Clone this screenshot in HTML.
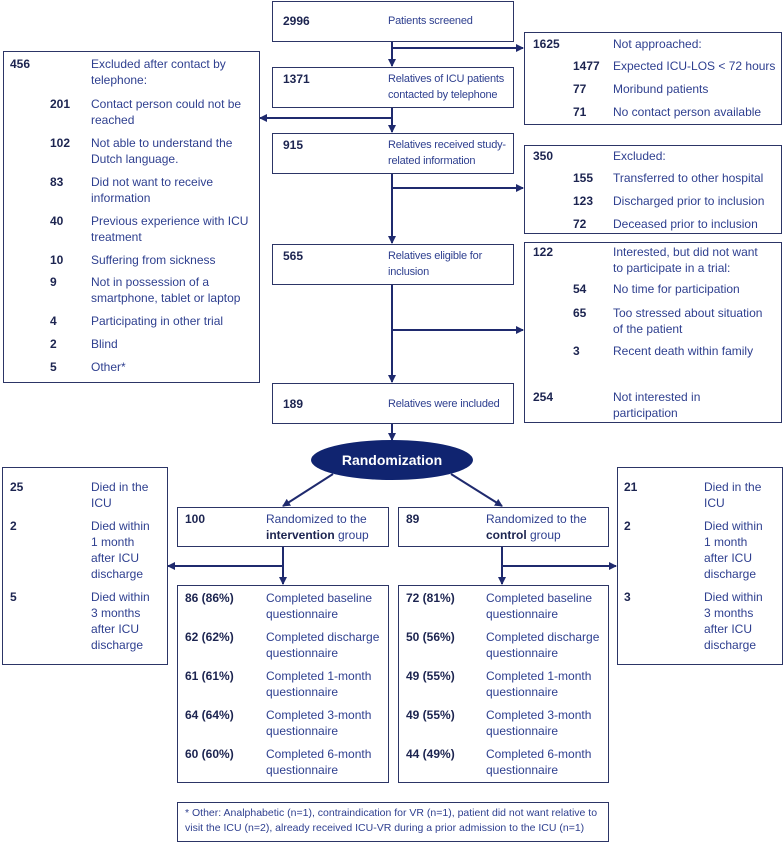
<!DOCTYPE html>
<html><head><meta charset="utf-8"><style>
body{margin:0;width:784px;height:844px;background:#fff;position:relative;overflow:hidden;font-family:"Liberation Sans",sans-serif;}
.b{position:absolute;border:1.3px solid #2c3566;box-sizing:border-box;background:#fff}
.t{position:absolute;font-size:12px;line-height:16px;color:#2e3f8f;white-space:nowrap}
.m{font-size:11px;letter-spacing:-0.2px}
.n{position:absolute;font-size:12px;line-height:16px;color:#1c2450;font-weight:bold;white-space:nowrap}
svg{position:absolute;left:0;top:0}
</style></head><body>
<svg width="784" height="844">
<defs><marker id="a" markerWidth="8" markerHeight="8" refX="7" refY="4" orient="auto" markerUnits="userSpaceOnUse"><path d="M0,0 L8,4 L0,8 z" fill="#1f2a6e"/></marker></defs>
<g stroke="#1f2a6e" stroke-width="2" fill="none">
<line x1="392" y1="41" x2="392" y2="66" marker-end="url(#a)"/>
<line x1="392" y1="48" x2="523" y2="48" marker-end="url(#a)"/>
<line x1="392" y1="107" x2="392" y2="132" marker-end="url(#a)"/>
<line x1="392" y1="118" x2="260" y2="118" marker-end="url(#a)"/>
<line x1="392" y1="173" x2="392" y2="243" marker-end="url(#a)"/>
<line x1="392" y1="188" x2="523" y2="188" marker-end="url(#a)"/>
<line x1="392" y1="284" x2="392" y2="382" marker-end="url(#a)"/>
<line x1="392" y1="330" x2="523" y2="330" marker-end="url(#a)"/>
<line x1="392" y1="423" x2="392" y2="440" marker-end="url(#a)"/>
<line x1="333" y1="474" x2="283" y2="506" marker-end="url(#a)"/>
<line x1="451" y1="474" x2="502" y2="506" marker-end="url(#a)"/>
<line x1="283" y1="546" x2="283" y2="584" marker-end="url(#a)"/>
<line x1="283" y1="566" x2="168" y2="566" marker-end="url(#a)"/>
<line x1="502" y1="546" x2="502" y2="584" marker-end="url(#a)"/>
<line x1="502" y1="566" x2="616" y2="566" marker-end="url(#a)"/>
</g>
<ellipse cx="392" cy="460" rx="81" ry="20" fill="#102470"/>
<text x="392" y="465" text-anchor="middle" font-family="Liberation Sans" font-weight="bold" font-size="14" fill="#fff">Randomization</text>
</svg>

<div class="b" style="left:272px;top:1px;width:242px;height:41px"></div>
<div class="n" style="left:283px;top:13px">2996</div><div class="t m" style="left:388px;top:13px">Patients screened</div>
<div class="b" style="left:272px;top:67px;width:242px;height:41px"></div>
<div class="n" style="left:283px;top:71px">1371</div><div class="t m" style="left:388px;top:71px">Relatives of ICU patients<br>contacted by telephone</div>
<div class="b" style="left:272px;top:133px;width:242px;height:41px"></div>
<div class="n" style="left:283px;top:137px">915</div><div class="t m" style="left:388px;top:137px">Relatives received study-<br>related information</div>
<div class="b" style="left:272px;top:244px;width:242px;height:41px"></div>
<div class="n" style="left:283px;top:248px">565</div><div class="t m" style="left:388px;top:248px">Relatives eligible for<br>inclusion</div>
<div class="b" style="left:272px;top:383px;width:242px;height:41px"></div>
<div class="n" style="left:283px;top:396px">189</div><div class="t m" style="left:388px;top:396px">Relatives were included</div>

<div class="b" style="left:3px;top:51px;width:257px;height:332px"></div>
<div class="n" style="left:10px;top:56px">456</div><div class="t" style="left:91px;top:56px">Excluded after contact by<br>telephone:</div>
<div class="n" style="left:50px;top:96px">201</div><div class="t" style="left:91px;top:96px">Contact person could not be<br>reached</div>
<div class="n" style="left:50px;top:135px">102</div><div class="t" style="left:91px;top:135px">Not able to understand the<br>Dutch language.</div>
<div class="n" style="left:50px;top:174px">83</div><div class="t" style="left:91px;top:174px">Did not want to receive<br>information</div>
<div class="n" style="left:50px;top:213px">40</div><div class="t" style="left:91px;top:213px">Previous experience with ICU<br>treatment</div>
<div class="n" style="left:50px;top:252px">10</div><div class="t" style="left:91px;top:252px">Suffering from sickness</div>
<div class="n" style="left:50px;top:274px">9</div><div class="t" style="left:91px;top:274px">Not in possession of a<br>smartphone, tablet or laptop</div>
<div class="n" style="left:50px;top:313px">4</div><div class="t" style="left:91px;top:313px">Participating in other trial</div>
<div class="n" style="left:50px;top:336px">2</div><div class="t" style="left:91px;top:336px">Blind</div>
<div class="n" style="left:50px;top:359px">5</div><div class="t" style="left:91px;top:359px">Other*</div>

<div class="b" style="left:524px;top:32px;width:258px;height:93px"></div>
<div class="n" style="left:533px;top:36px">1625</div><div class="t" style="left:613px;top:36px">Not approached:</div>
<div class="n" style="left:573px;top:58px">1477</div><div class="t" style="left:613px;top:58px">Expected ICU-LOS &lt; 72 hours</div>
<div class="n" style="left:573px;top:81px">77</div><div class="t" style="left:613px;top:81px">Moribund patients</div>
<div class="n" style="left:573px;top:104px">71</div><div class="t" style="left:613px;top:104px">No contact person available</div>

<div class="b" style="left:524px;top:145px;width:258px;height:89px"></div>
<div class="n" style="left:533px;top:148px">350</div><div class="t" style="left:613px;top:148px">Excluded:</div>
<div class="n" style="left:573px;top:170px">155</div><div class="t" style="left:613px;top:170px">Transferred to other hospital</div>
<div class="n" style="left:573px;top:193px">123</div><div class="t" style="left:613px;top:193px">Discharged prior to inclusion</div>
<div class="n" style="left:573px;top:216px">72</div><div class="t" style="left:613px;top:216px">Deceased prior to inclusion</div>

<div class="b" style="left:524px;top:242px;width:258px;height:181px"></div>
<div class="n" style="left:533px;top:244px">122</div><div class="t" style="left:613px;top:244px">Interested, but did not want<br>to participate in a trial:</div>
<div class="n" style="left:573px;top:281px">54</div><div class="t" style="left:613px;top:281px">No time for participation</div>
<div class="n" style="left:573px;top:305px">65</div><div class="t" style="left:613px;top:305px">Too stressed about situation<br>of the patient</div>
<div class="n" style="left:573px;top:343px">3</div><div class="t" style="left:613px;top:343px">Recent death within family</div>
<div class="n" style="left:533px;top:389px">254</div><div class="t" style="left:613px;top:389px">Not interested in<br>participation</div>

<div class="b" style="left:2px;top:467px;width:166px;height:198px"></div>
<div class="n" style="left:10px;top:479px">25</div><div class="t" style="left:91px;top:479px">Died in the<br>ICU</div>
<div class="n" style="left:10px;top:518px">2</div><div class="t" style="left:91px;top:518px">Died within<br>1 month<br>after ICU<br>discharge</div>
<div class="n" style="left:10px;top:589px">5</div><div class="t" style="left:91px;top:589px">Died within<br>3 months<br>after ICU<br>discharge</div>

<div class="b" style="left:617px;top:467px;width:166px;height:198px"></div>
<div class="n" style="left:624px;top:479px">21</div><div class="t" style="left:704px;top:479px">Died in the<br>ICU</div>
<div class="n" style="left:624px;top:518px">2</div><div class="t" style="left:704px;top:518px">Died within<br>1 month<br>after ICU<br>discharge</div>
<div class="n" style="left:624px;top:589px">3</div><div class="t" style="left:704px;top:589px">Died within<br>3 months<br>after ICU<br>discharge</div>

<div class="b" style="left:177px;top:507px;width:212px;height:40px"></div>
<div class="n" style="left:185px;top:511px">100</div><div class="t" style="left:266px;top:511px">Randomized to the<br><b style="color:#1c2450">intervention</b> group</div>
<div class="b" style="left:398px;top:507px;width:211px;height:40px"></div>
<div class="n" style="left:406px;top:511px">89</div><div class="t" style="left:486px;top:511px">Randomized to the<br><b style="color:#1c2450">control</b> group</div>

<div class="b" style="left:177px;top:585px;width:212px;height:198px"></div>
<div class="n" style="left:185px;top:590px">86 (86%)</div><div class="t" style="left:266px;top:590px">Completed baseline<br>questionnaire</div>
<div class="n" style="left:185px;top:629px">62 (62%)</div><div class="t" style="left:266px;top:629px">Completed discharge<br>questionnaire</div>
<div class="n" style="left:185px;top:668px">61 (61%)</div><div class="t" style="left:266px;top:668px">Completed 1-month<br>questionnaire</div>
<div class="n" style="left:185px;top:707px">64 (64%)</div><div class="t" style="left:266px;top:707px">Completed 3-month<br>questionnaire</div>
<div class="n" style="left:185px;top:746px">60 (60%)</div><div class="t" style="left:266px;top:746px">Completed 6-month<br>questionnaire</div>

<div class="b" style="left:398px;top:585px;width:211px;height:198px"></div>
<div class="n" style="left:406px;top:590px">72 (81%)</div><div class="t" style="left:486px;top:590px">Completed baseline<br>questionnaire</div>
<div class="n" style="left:406px;top:629px">50 (56%)</div><div class="t" style="left:486px;top:629px">Completed discharge<br>questionnaire</div>
<div class="n" style="left:406px;top:668px">49 (55%)</div><div class="t" style="left:486px;top:668px">Completed 1-month<br>questionnaire</div>
<div class="n" style="left:406px;top:707px">49 (55%)</div><div class="t" style="left:486px;top:707px">Completed 3-month<br>questionnaire</div>
<div class="n" style="left:406px;top:746px">44 (49%)</div><div class="t" style="left:486px;top:746px">Completed 6-month<br>questionnaire</div>

<div class="b" style="left:177px;top:802px;width:432px;height:40px"></div>
<div class="t" style="left:185px;top:806px;font-size:10.5px;line-height:15px">* Other: Analphabetic (n=1), contraindication for VR (n=1), patient did not want relative to<br>visit the ICU (n=2), already received ICU-VR during a prior admission to the ICU (n=1)</div>
</body></html>
